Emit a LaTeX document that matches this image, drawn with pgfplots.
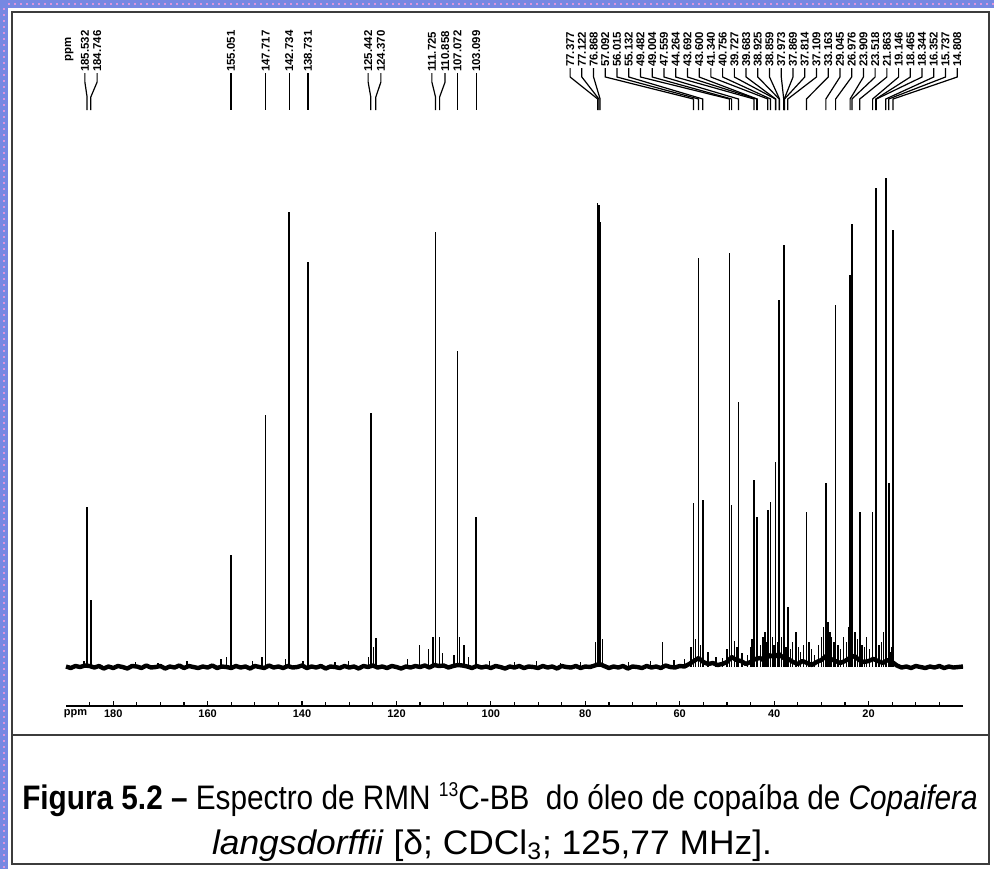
\documentclass[border=0pt]{standalone}
\usepackage{fontspec}
\setmainfont{Liberation Sans}
\usepackage{pgfplots}
\pgfplotsset{compat=1.18}
\definecolor{frameblue}{RGB}{118,136,226}
\definecolor{framepink}{RGB}{220,150,220}
\definecolor{inkgray}{RGB}{60,60,60}
\newcommand{\labfont}{\fontsize{5.7}{6}\selectfont\bfseries}
\newcommand{\tickfont}{\fontsize{5.5}{6}\selectfont\bfseries}
% left group label: label x, peak x, text
\newcommand{\llab}[3]{%
  \draw[line width=0.6pt] (axis cs:#1,594) -- (axis cs:#1,585) -- (axis cs:#2,570) -- (axis cs:#2,557);
  \node[rotate=90, anchor=west, inner sep=0.4pt, font=\labfont] at (axis cs:#1,594) {#3};}
% right group label: label x, peak x, text
\newcommand{\rlab}[3]{%
  \draw[line width=0.6pt] (axis cs:#1,599) -- (axis cs:#1,590) -- (axis cs:#2,568) -- (axis cs:#2,557);
  \node[rotate=90, anchor=west, inner sep=0.4pt, font=\labfont] at (axis cs:#1,599) {#3};}

\begin{document}
\begin{tikzpicture}
  \path[use as bounding box] (0,0) rectangle (497pt,-434.5pt);
  % page frame
  \fill[frameblue] (0,0) rectangle (4pt,-434.5pt);
  \fill[frameblue] (0,0) rectangle (497pt,-4pt);
  \draw[framepink, dash pattern=on 1pt off 2pt, line width=0.6pt] (2pt,-4pt) -- (2pt,-434.5pt);
  \draw[framepink, dash pattern=on 1pt off 2pt, line width=0.6pt] (4pt,-2pt) -- (497pt,-2pt);
  \draw[inkgray, line width=0.8pt] (6pt,-6pt) rectangle (494.5pt,-432pt);
  \draw[inkgray, line width=0.8pt] (6pt,-367.5pt) -- (494.5pt,-367.5pt);

  \begin{axis}[
    at={(33pt,-353pt)}, anchor=south west,
    scale only axis, width=448.5pt, height=340.5pt,
    xmin=0, xmax=190, x dir=reverse,
    ymin=-39, ymax=642,
    axis x line*=bottom, axis y line=none,
    xtick={20,40,...,180}, minor xtick={5,10,...,185},
    tick align=inside,
    major tick length=2.6pt, minor tick length=1.8pt,
    tick style={black, line width=0.6pt},
    axis line style={black, line width=0.8pt},
    xticklabel style={font=\tickfont, inner sep=1.5pt},
    /pgf/number format/assume math mode=true,
    clip=false,
  ]
    % baseline noise
    \addplot[black, line width=2.2pt, line join=round, no marks] coordinates {
      (190,0.5) (189,-1) (188,1) (187,0) (186,1.5) (185,1) (184,-0.5) (183,1) (182,-1.5) (181,0.5)
      (180,-1) (179,1) (178,0) (177,-1.5) (176,1) (175,0.5) (174,-1) (173,1.5) (172,-0.5) (171,0)
      (170,1) (169,-1.5) (168,0.5) (167,-0.5) (166,1.5) (165,-1) (164,1) (163,0) (162,-1) (161,0.5)
      (160,-0.5) (159,1.5) (158,-1) (157,0.5) (156,0) (155,-1) (154,1) (153,-0.5) (152,0.5) (151,-1.5)
      (150,1) (149,0) (148,-1) (147,1.5) (146,-0.5) (145,0.5) (144,-1) (143,1) (142,-0.5) (141,0)
      (140,1.5) (139,-1) (138,0.5) (137,-0.5) (136,1) (135,-1.5) (134,0.5) (133,0) (132,-1) (131,1)
      (130,-0.5) (129,0.5) (128,-1.5) (127,1) (126,0) (125,1.5) (124,-0.5) (123,0.5) (122,-1) (121,1)
      (120,0) (119,-1.5) (118,0.5) (117,-0.5) (116,1) (115,0) (114,1.5) (113,-0.5) (112,2) (111,1)
      (110,1.5) (109,-0.5) (108,1) (107,2) (106,1.5) (105,0.5) (104,-1) (103,1) (102,-0.5) (101,0.5)
      (100,-1) (99,1) (98,0) (97,-1.5) (96,0.5) (95,-0.5) (94,1) (93,-1) (92,0.5) (91,0)
      (90,-1) (89,1) (88,-0.5) (87,0.5) (86,-1.5) (85,1) (84,0) (83,-0.5) (82,1) (81,-1)
      (80,0.5) (79,0) (78,1.5) (77,3) (76,1) (75,-1) (74,0.5) (73,-0.5) (72,1) (71,-1.5)
      (70,0.5) (69,0) (68,-1) (67,1) (66,-0.5) (65,0.5) (64,-1) (63,1.5) (62,0) (61,-0.5)
      (60,1) (59,0.5) (58,3) (57,6) (56,9) (55,5) (54,3) (53,4) (52,2) (51,3)
      (50,5) (49,10) (48,7) (47,6) (46,3) (45,5) (44,8) (43,9) (42,6) (41,12)
      (40,10) (39,13) (38,9) (37,8) (36,5) (35,3) (34,6) (33,4) (32,2) (31,5)
      (30,7) (29,11) (28,8) (27,6) (26,4) (25,6) (24,9) (23,11) (22,7) (21,5)
      (20,6) (19,8) (18,6) (17,4) (16,7) (15,5) (14,1.5) (13,-0.5) (12,0.5) (11,-1)
      (10,1) (9,0) (8,-1) (7,0.5) (6,-0.5) (5,1) (4,-1) (3,0.5) (2,-0.5) (1,0) (0,0.5)
    };
    % small lines
    \addplot[black, ycomb, line width=0.7pt, no marks] coordinates {
      (186.2,6) (175.3,5) (170.5,4) (164.4,6) (157.2,8) (156.0,10) (150.5,6) (148.5,10)
      (143.5,8) (139.8,6) (133.0,5) (130.2,6) (125.9,10) (124.9,20) (117.7,8) (115.1,22)
      (113.2,18) (112.3,30) (110.2,14) (107.8,12) (106.6,30) (105.7,22) (104.8,10) (100.3,6)
      (95.0,5) (90.4,6) (85.2,4) (81.0,5) (77.9,25) (76.4,28) (70.8,5) (66.2,6) (63.7,25)
      (61.2,7) (59.0,8) (57.6,20) (56.6,28) (55.6,22) (54.0,15) (52.3,10) (50.9,9) (50.0,18)
      (48.4,26) (47.9,20) (46.8,14) (45.6,12) (45.0,20) (44.7,28) (42.9,22) (42.4,30)
      (41.9,35) (41.6,25) (40.3,30) (40.0,22) (39.3,25) (38.4,30) (37.5,20) (36.6,18)
      (36.1,25) (35.4,35) (34.9,20) (34.4,15) (33.8,22) (32.6,25) (32.1,18) (31.5,12)
      (30.6,22) (30.0,30) (29.6,40) (28.6,45) (28.2,35) (27.8,30) (27.3,25) (26.5,22)
      (25.9,18) (25.3,30) (24.7,25) (24.2,40) (22.9,35) (22.4,28) (21.4,22) (20.9,20)
      (20.4,30) (19.8,18) (17.8,22) (17.3,25) (16.9,35) (15.4,15) (15.0,20)
    };
    % assigned lines
    \addplot[black, ycomb, line width=0.8pt, no marks] coordinates {
      (185.532,160) (184.746,67) (155.051,112) (147.717,252) (142.734,455) (138.731,405)
      (125.442,254) (124.370,29) (111.725,435) (110.858,30) (107.072,316) (103.099,150)
      (77.377,464) (77.250,460) (77.122,462) (77.000,450) (76.868,445)
      (57.092,164) (56.015,409) (55.132,167) (49.482,414) (49.004,162) (47.559,265)
      (44.264,187) (43.692,147) (43.600,150) (41.340,157) (40.756,165) (39.727,205)
      (39.683,120) (38.925,367) (38.859,300) (37.973,422) (37.869,390) (37.814,399)
      (37.109,60) (33.163,155) (29.045,184) (26.976,362) (23.909,392) (23.518,443)
      (21.863,155) (19.146,155) (18.465,479) (18.344,120) (16.352,489) (15.737,184)
      (14.808,437)
    };

    \node[font=\tickfont, anchor=north, inner sep=1.5pt] at (axis cs:188,-39) {ppm};
    \node[rotate=90, anchor=west, inner sep=0.4pt, font=\labfont] at (axis cs:189.3,604) {ppm};

    \llab{186.0}{185.532}{185.532}
    \llab{183.4}{184.746}{184.746}
    \llab{155.051}{155.051}{155.051}
    \llab{147.717}{147.717}{147.717}
    \llab{142.734}{142.734}{142.734}
    \llab{138.731}{138.731}{138.731}
    \llab{126.0}{125.442}{125.442}
    \llab{123.3}{124.370}{124.370}
    \llab{112.5}{111.725}{111.725}
    \llab{109.7}{110.858}{110.858}
    \llab{107.072}{107.072}{107.072}
    \llab{103.099}{103.099}{103.099}

    \rlab{83.22}{77.377}{77.377}
    \rlab{80.735}{77.122}{77.122}
    \rlab{78.25}{76.868}{76.868}
    \rlab{75.765}{57.092}{57.092}
    \rlab{73.28}{56.015}{56.015}
    \rlab{70.795}{55.132}{55.132}
    \rlab{68.31}{49.482}{49.482}
    \rlab{65.825}{49.004}{49.004}
    \rlab{63.34}{47.559}{47.559}
    \rlab{60.855}{44.264}{44.264}
    \rlab{58.37}{43.692}{43.692}
    \rlab{55.885}{43.600}{43.600}
    \rlab{53.40}{41.340}{41.340}
    \rlab{50.915}{40.756}{40.756}
    \rlab{48.43}{39.727}{39.727}
    \rlab{45.945}{39.683}{39.683}
    \rlab{43.46}{38.925}{38.925}
    \rlab{40.975}{38.859}{38.859}
    \rlab{38.49}{37.973}{37.973}
    \rlab{36.005}{37.869}{37.869}
    \rlab{33.52}{37.814}{37.814}
    \rlab{31.035}{37.109}{37.109}
    \rlab{28.55}{33.163}{33.163}
    \rlab{26.065}{29.045}{29.045}
    \rlab{23.58}{26.976}{26.976}
    \rlab{21.095}{23.909}{23.909}
    \rlab{18.61}{23.518}{23.518}
    \rlab{16.125}{21.863}{21.863}
    \rlab{13.64}{19.146}{19.146}
    \rlab{11.155}{18.465}{18.465}
    \rlab{8.67}{18.344}{18.344}
    \rlab{6.185}{16.352}{16.352}
    \rlab{3.70}{15.737}{15.737}
    \rlab{1.215}{14.808}{14.808}
  \end{axis}

  % caption
  \node[font=\fontsize{17}{20}\selectfont, inner sep=0pt] at (250pt,-400pt)
    {\scalebox{0.875}[1]{\textbf{Figura 5.2 –} Espectro de RMN {\fontsize{10}{10}\selectfont\raisebox{6.5pt}{13}}C-BB\ \ do óleo de copaíba de \textit{Copaifera}}};
  \node[font=\fontsize{17}{20}\selectfont, inner sep=0pt] at (246pt,-423pt)
    {\scalebox{1.04}[1]{\textit{langsdorffii} [δ; CDCl\textsubscript{3}; 125,77 MHz].}};
\end{tikzpicture}
\end{document}
